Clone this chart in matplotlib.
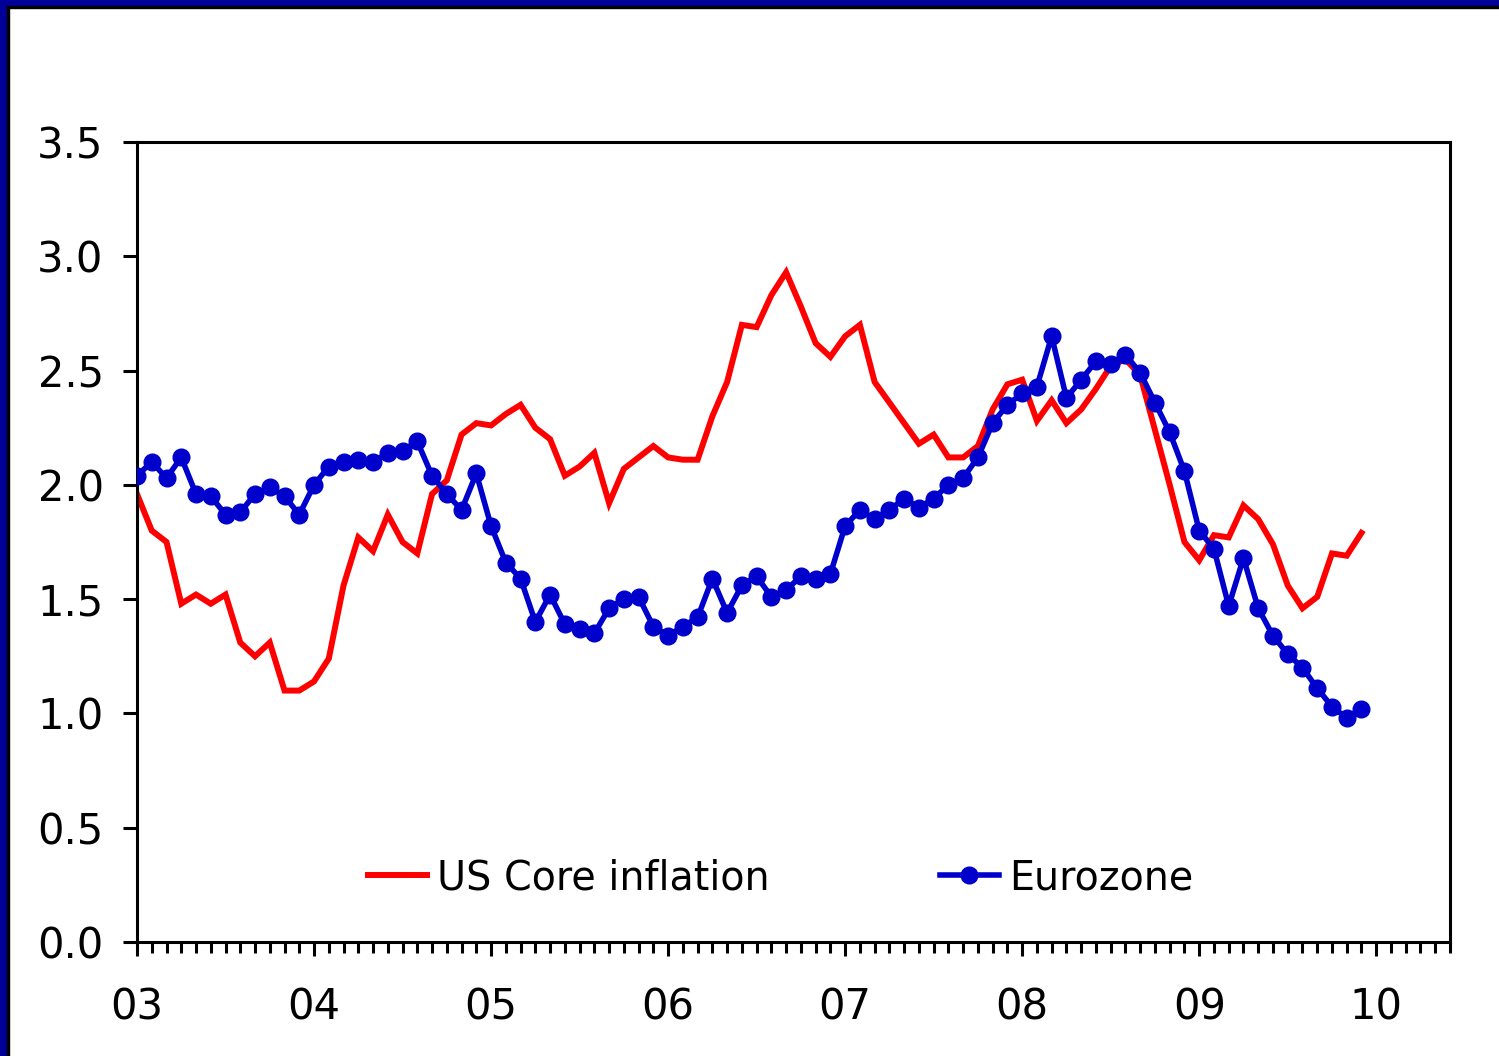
import numpy as np
import matplotlib
matplotlib.use("Agg")
import matplotlib.pyplot as plt
from matplotlib.patches import Rectangle

# monthly, Jan 2003 .. Dec 2009 (month index 0 = Jan 03)
us_core = [
    1.96, 1.80, 1.75, 1.48, 1.52, 1.48, 1.52, 1.31, 1.25, 1.31, 1.10, 1.10,
    1.14, 1.24, 1.56, 1.77, 1.71, 1.87, 1.75, 1.70, 1.96, 2.02, 2.22, 2.27,
    2.26, 2.31, 2.35, 2.25, 2.20, 2.04, 2.08, 2.14, 1.92, 2.07, 2.12, 2.17,
    2.12, 2.11, 2.11, 2.30, 2.45, 2.70, 2.69, 2.83, 2.93, 2.78, 2.62, 2.56,
    2.65, 2.70, 2.45, 2.36, 2.27, 2.18, 2.22, 2.12, 2.12, 2.17, 2.33, 2.44,
    2.46, 2.28, 2.37, 2.27, 2.33, 2.42, 2.52, 2.55, 2.48, 2.24, 2.00, 1.75,
    1.67, 1.78, 1.77, 1.91, 1.85, 1.74, 1.56, 1.46, 1.51, 1.70, 1.69, 1.79,
]
eurozone = [
    2.04, 2.10, 2.03, 2.12, 1.96, 1.95, 1.87, 1.88, 1.96, 1.99, 1.95, 1.87,
    2.00, 2.08, 2.10, 2.11, 2.10, 2.14, 2.15, 2.19, 2.04, 1.96, 1.89, 2.05,
    1.82, 1.66, 1.59, 1.40, 1.52, 1.39, 1.37, 1.35, 1.46, 1.50, 1.51, 1.38,
    1.34, 1.38, 1.42, 1.59, 1.44, 1.56, 1.60, 1.51, 1.54, 1.60, 1.59, 1.61,
    1.82, 1.89, 1.85, 1.89, 1.94, 1.90, 1.94, 2.00, 2.03, 2.12, 2.27, 2.35,
    2.40, 2.43, 2.65, 2.38, 2.46, 2.54, 2.53, 2.57, 2.49, 2.36, 2.23, 2.06,
    1.80, 1.72, 1.47, 1.68, 1.46, 1.34, 1.26, 1.20, 1.11, 1.03, 0.98, 1.02,
]
year_labels = ["03", "04", "05", "06", "07", "08", "09", "10"]
y_ticks = [0.0, 0.5, 1.0, 1.5, 2.0, 2.5, 3.0, 3.5]

RED = "#FF0000"
BLUE = "#0000CC"
NAVY = "#000099"

plt.rcParams["font.family"] = ["DejaVu Sans"]

fig = plt.figure(figsize=(14.99, 10.56), dpi=100)
W, H = 1499, 1056
ax = fig.add_axes([137 / W, 1 - 942 / H, (1450 - 137) / W, (942 - 142) / H])

months = np.arange(len(us_core))
ax.plot(months, us_core, color=RED, lw=4.3, solid_joinstyle="miter",
        label="US Core inflation", zorder=2)
ax.plot(np.arange(len(eurozone)), eurozone, color=BLUE, lw=4.0, marker="o",
        markersize=12, label="Eurozone", zorder=3)

ax.set_xlim(0, 89)
ax.set_ylim(0, 3.5)
ax.set_xticks(np.arange(0, 12 * len(year_labels), 12))
ax.set_xticklabels(year_labels)
ax.set_xticks(np.arange(0, 90), minor=True)
ax.set_yticks(y_ticks)
ax.set_yticklabels([f"{v:.1f}" for v in y_ticks])

ax.tick_params(axis="x", which="major", direction="out", length=10, width=2.2,
               labelsize=30, pad=22)
ax.tick_params(axis="x", which="minor", direction="out", length=8, width=2.2)
ax.tick_params(axis="y", which="major", direction="out", length=10, width=2.2,
               labelsize=30, pad=14)
for s in ax.spines.values():
    s.set_linewidth(2.2)

ax.legend(loc="center", bbox_to_anchor=(0.49, 0.08), ncol=2, frameon=False,
          fontsize=28.5, handlelength=1.5, handletextpad=0.25, columnspacing=4.3)

# navy frame on left and top edges
fig.patches.append(Rectangle((0, 0), 7 / W, 1, transform=fig.transFigure,
                             color=NAVY, zorder=0))
fig.patches.append(Rectangle((0, 1 - 6 / H), 1, 6 / H, transform=fig.transFigure,
                             color=NAVY, zorder=0))
fig.patches.append(Rectangle((7 / W, 0), 2 / W, 1 - 6 / H, transform=fig.transFigure,
                             color="black", zorder=0))
fig.patches.append(Rectangle((7 / W, 1 - 8 / H), 1, 2 / H, transform=fig.transFigure,
                             color="black", zorder=0))

fig.savefig("out.png", dpi=100)
